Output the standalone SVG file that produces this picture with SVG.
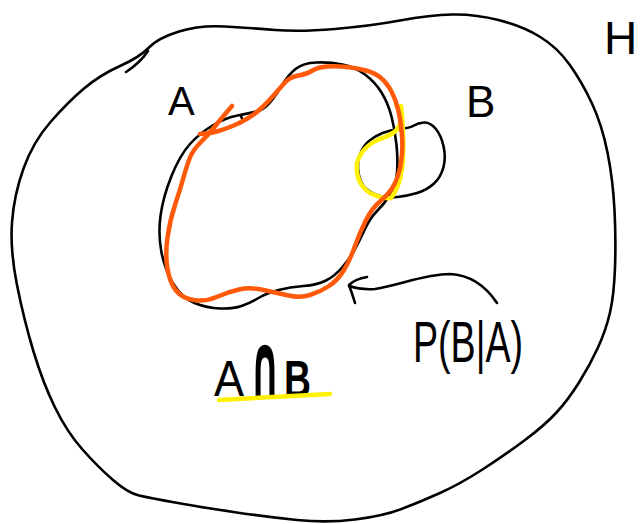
<svg xmlns="http://www.w3.org/2000/svg" width="644" height="524" viewBox="0 0 644 524">
<style>
.ink{fill:none;stroke:#000;stroke-width:2.6;stroke-linecap:round;stroke-linejoin:round}
.orange{fill:none;stroke:#FF5A0A;stroke-width:4.5;stroke-linecap:round;stroke-linejoin:round}
.yellow{fill:none;stroke:#FFEF00;stroke-width:4.5;stroke-linecap:round;stroke-linejoin:round}
.lbl{font-family:"Liberation Sans",Arial,sans-serif;fill:#000}
</style>
<rect width="644" height="524" fill="#fff"/>
<g id="universe-H">
<path class="ink" d="M84,88.5 Q100,75 120,66 Q140,57 149,47.5 Q158,38 179,31.5 Q200,25 225,26.5 Q250,28 275,30 Q300,32 335,29 Q370,26 400,20.5 Q430,15 452.5,14.5 Q475,14 498.5,20 Q522,26 539.5,36.5 Q557,47 569.5,64.5 Q582,82 592,103.5 Q602,125 607.5,152.5 Q613,180 614.5,210 Q616,240 615,267.5 Q614,295 610,312.5 Q606,330 598,347.5 Q590,365 579,382.5 Q568,400 556.5,412.5 Q545,425 525,440 Q505,455 482.5,469.5 Q460,484 440,493 Q420,502 401.5,509 Q383,516 355,519.5 Q327,523 297,520 Q267,517 233.5,512 Q200,507 175,502.5 Q150,498 139,495.5 Q128,493 113,480 Q98,467 82.5,449.5 Q67,432 55,407.5 Q43,383 33.5,351.5 Q24,320 17,285 Q10,250 12,222.5 Q14,195 23.5,168.5 Q33,142 50.5,122 Q68,102 84,88.5 Z"/>
<path class="ink" d="M126,72 Q140,63 148,51"/>
<text class="lbl" x="604" y="54" font-size="46">H</text>
</g>
<g id="set-B">
<path class="ink" d="M382.5,133 Q390,130 400,129 Q410,128 414,125.5 Q418,123 424,122.5 Q430,122 435.5,128.5 Q441,135 443.5,146 Q446,157 443.5,167 Q441,177 434,183.5 Q427,190 417,193 Q407,196 397.5,197 Q388,198 380,196 Q372,194 366,188.5 Q360,183 358.5,173 Q357,163 360,154.5 Q363,146 369,141 Q375,136 382.5,133 Z"/>
<text class="lbl" x="466" y="117" font-size="44">B</text>
</g>
<g id="set-A">
<path class="ink" d="M295.5,69 Q303,63 316.5,62.5 Q330,62 342.5,64.5 Q355,67 365,74.5 Q375,82 381.5,92.5 Q388,103 391.5,116.5 Q395,130 396.5,145 Q398,160 397,172.5 Q396,185 390.5,194 Q385,203 377.5,210.5 Q370,218 365,229 Q360,240 355,249 Q350,258 342.5,267 Q335,276 326,280.5 Q317,285 303.5,286 Q290,287 278.5,290 Q267,293 258.5,298 Q250,303 241.5,306 Q233,309 220,308.5 Q207,308 194.5,303 Q182,298 173.5,284 Q165,270 161.5,252.5 Q158,235 160.5,216 Q163,197 171.5,176 Q180,155 190,144 Q200,133 212.5,125.5 Q225,118 237.5,115.5 Q250,113 256.5,111.5 Q263,110 269,103.5 Q275,97 281.5,86 Q288,75 295.5,69 Z"/>
<path class="ink" d="M241,116 L243,121"/>
<text class="lbl" x="168" y="115" font-size="40">A</text>
</g>
<g id="intersection-AB">
<path class="yellow" d="M401,106 L400,125 Q396,134 380,139 Q362,146 357,163 Q355,183 370,193 Q382,199 391,198 Q401,185 403,160 Q404,130 401,106 Z"/>
</g>
<g id="given-A">
<path class="orange" d="M232,106 L226,113 Q220,120 214,127.5 Q208,135 200.5,142.5 Q193,150 190,157.5 Q187,165 183.5,177.5 Q180,190 175,205 Q170,220 167.5,237.5 Q165,255 167.5,269 Q170,283 176,290.5 Q182,298 193.5,300 Q205,302 216.5,297 Q228,292 239,289.5 Q250,287 263.5,290 Q277,293 288.5,295.5 Q300,298 310,295 Q320,292 329,286 Q338,280 344,270 Q350,260 355,246 Q360,232 366,220 Q372,208 381,200.5 Q390,193 394.5,184 Q399,175 401,162.5 Q403,150 402,136 Q401,122 398.5,111 Q396,100 391.5,91.5 Q387,83 381,78 Q375,73 366,70.5 Q357,68 347,67 Q337,66 327.5,66.5 Q318,67 312.5,70.5 Q307,74 298.5,75.5 Q290,77 285,82.5 Q280,88 274,95 Q268,102 261.5,108 Q255,114 247.5,118.5 Q240,123 232.5,126 Q225,129 218.5,131 Q212,133 206,133.5 L200,134"/>
</g>
<g id="label-AnB">
<text class="lbl" y="396" font-size="50"><tspan x="214" textLength="30" lengthAdjust="spacingAndGlyphs">A</tspan><tspan x="250" y="398" font-size="92" font-weight="bold" style="font-family:'DejaVu Sans',sans-serif" textLength="30" lengthAdjust="spacingAndGlyphs">∩</tspan><tspan x="284" y="397" font-size="52" font-weight="bold" textLength="27" lengthAdjust="spacingAndGlyphs">B</tspan></text>
<path class="yellow" d="M219,400 Q270,397 330,394"/>
</g>
<g id="label-PBA">
<text class="lbl" x="413" y="362" font-size="58" textLength="110" lengthAdjust="spacingAndGlyphs">P(B|A)</text>
</g>
<g id="connectors">
<path class="ink" d="M497,303 C485,285 470,275 450,274 C425,274 400,285 375,289 C362,290 355,288 349,286"/>
<path class="ink" d="M367,277 Q355,279 349,285 Q352,293 355,303"/>
</g>
</svg>
